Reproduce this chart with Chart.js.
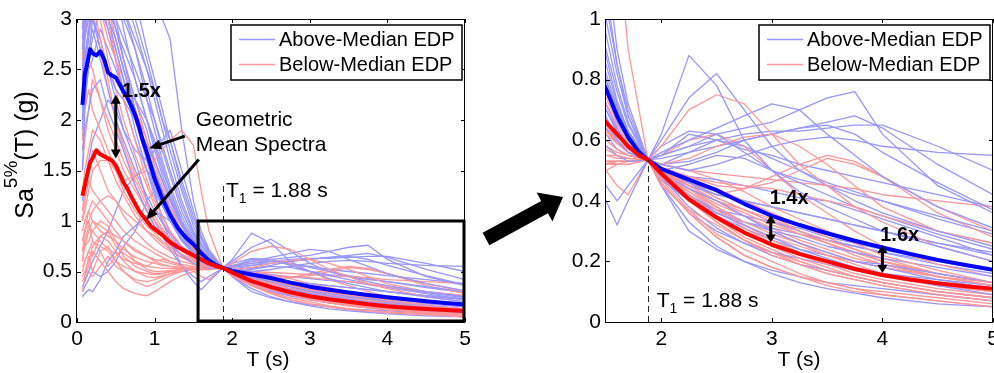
<!DOCTYPE html>
<html lang="en">
<head>
<meta charset="UTF-8">
<title>Spectra above / below median EDP</title>
<script src="https://cdn.jsdelivr.net/npm/chart.js@4.4.1/dist/chart.umd.min.js"></script>
<style>
  body { margin: 0; background: #fff; }
  #wrap { position: relative; width: 994px; height: 373px; overflow: hidden; }
  #left { position: absolute; left: 0; top: 0; }
  #right { position: absolute; left: 480px; top: 0; }
</style>
</head>
<body>
<div id="wrap">
  <canvas id="left" width="480" height="373"></canvas>
  <canvas id="right" width="514" height="373"></canvas>
</div>
<script>
// periods (s) of the individual spectra
var periods = [0.07,0.1,0.15,0.2,0.3,0.4,0.5,0.6,0.75,0.9,1.0,1.1,1.2,1.35,1.5,1.6,1.7,1.88,2.0,2.25,2.5,2.75,3.0,3.25,3.5,3.75,4.0,4.5,5.0];

// above-median EDP records, Sa (g)
var blueSpectra = [
  [3.4,3.9,4.3,4.1,3.9,3.6,3.4,3.1,2.7,2.2,1.9,1.6,1.35,1.05,0.82,0.71,0.63,0.535,0.49,0.44,0.4,0.35,0.3,0.26,0.23,0.2,0.18,0.14,0.11],
  [2.4,2.9,3.5,3.8,3.9,3.6,3.5,3.3,2.9,2.5,2.2,1.9,1.6,1.2,0.9,0.76,0.65,0.535,0.48,0.42,0.36,0.32,0.28,0.24,0.21,0.18,0.16,0.12,0.09],
  [1.7,1.9,2.1,2.3,2.4,2.1,1.9,1.7,1.35,1.1,0.95,0.85,0.78,0.66,0.58,0.55,0.53,0.535,0.62,0.88,0.78,0.6,0.5,0.43,0.38,0.34,0.3,0.25,0.2],
  [2.7,3.0,3.3,3.4,3.1,2.9,2.6,2.2,1.8,1.5,1.3,1.15,1.0,0.8,0.68,0.6,0.56,0.535,0.6,0.74,0.82,0.7,0.58,0.5,0.45,0.4,0.36,0.3,0.25],
  [3.1,3.5,3.9,3.8,3.5,3.0,2.8,2.5,2.1,1.7,1.5,1.3,1.1,0.86,0.7,0.63,0.58,0.535,0.55,0.58,0.62,0.64,0.66,0.7,0.74,0.76,0.62,0.45,0.36],
  [2.2,2.6,2.9,3.2,3.3,3.0,2.7,2.4,2.0,1.6,1.35,1.15,1.0,0.82,0.7,0.63,0.58,0.535,0.52,0.5,0.52,0.55,0.58,0.6,0.61,0.6,0.58,0.56,0.55],
  [1.5,2.1,2.6,3.0,3.3,3.4,3.0,2.6,2.1,1.6,1.3,1.0,0.8,0.55,0.4,0.32,0.4,0.535,0.58,0.63,0.62,0.56,0.5,0.46,0.42,0.38,0.35,0.29,0.24],
  [0.25,0.28,0.32,0.3,0.42,0.6,0.7,0.85,0.95,1.05,1.1,1.05,1.0,0.85,0.7,0.63,0.58,0.535,0.48,0.38,0.31,0.26,0.22,0.19,0.17,0.15,0.13,0.1,0.08],
  [2.9,3.3,3.5,3.4,3.2,3.0,2.7,2.4,1.9,1.5,1.25,1.05,0.9,0.74,0.64,0.59,0.56,0.535,0.56,0.6,0.64,0.68,0.72,0.7,0.62,0.55,0.48,0.38,0.31],
  [3.0,3.6,3.9,4.1,3.6,3.2,2.9,2.6,2.2,1.9,1.6,1.4,1.2,0.95,0.76,0.66,0.6,0.535,0.45,0.33,0.25,0.2,0.16,0.13,0.11,0.095,0.08,0.06,0.05],
  [2.6,2.9,3.1,3.0,2.7,2.5,2.3,2.2,2.0,1.75,1.6,1.4,1.22,0.98,0.78,0.68,0.6,0.535,0.5,0.48,0.47,0.45,0.43,0.41,0.4,0.37,0.34,0.28,0.22],
  [3.8,4.2,4.5,4.2,3.7,3.3,3.0,2.8,2.5,2.2,2.0,1.75,1.5,1.15,0.88,0.73,0.63,0.535,0.47,0.4,0.35,0.31,0.27,0.24,0.22,0.2,0.19,0.16,0.13],
  [2.0,2.4,2.7,2.9,2.6,2.3,2.0,1.8,1.5,1.25,1.1,0.98,0.86,0.72,0.62,0.57,0.55,0.535,0.54,0.56,0.58,0.6,0.62,0.64,0.66,0.68,0.64,0.52,0.42],
  [2.4,2.8,3.0,3.4,3.2,3.1,2.9,2.7,2.4,2.0,1.75,1.5,1.3,1.0,0.8,0.7,0.62,0.535,0.49,0.45,0.42,0.4,0.38,0.36,0.34,0.32,0.3,0.26,0.22],
  [3.3,3.6,3.7,3.6,3.2,2.9,2.6,2.3,2.0,1.7,1.5,1.3,1.1,0.87,0.72,0.64,0.58,0.535,0.52,0.53,0.56,0.6,0.62,0.64,0.65,0.62,0.56,0.46,0.37],
  [1.9,2.3,2.6,2.8,3.1,3.3,3.2,3.0,2.7,2.3,2.0,1.7,1.45,1.1,0.85,0.72,0.63,0.535,0.48,0.42,0.37,0.33,0.3,0.28,0.25,0.23,0.21,0.18,0.15],
  [2.3,2.6,2.9,3.0,2.8,2.5,2.2,1.9,1.6,1.2,1.0,0.85,0.72,0.55,0.45,0.4,0.45,0.535,0.45,0.3,0.24,0.2,0.17,0.15,0.13,0.12,0.11,0.09,0.07],
  [3.1,3.4,3.6,3.9,4.0,3.7,3.4,3.1,2.8,2.5,2.3,2.0,1.8,1.35,1.0,0.82,0.68,0.535,0.46,0.36,0.3,0.26,0.23,0.21,0.19,0.17,0.16,0.14,0.12],
  [2.7,3.0,3.3,3.4,3.7,3.9,4.0,3.9,3.7,3.4,3.2,3.0,2.8,1.9,1.2,0.9,0.72,0.535,0.5,0.46,0.42,0.4,0.38,0.36,0.34,0.32,0.3,0.26,0.23],
  [1.2,1.4,1.6,1.8,2.0,2.2,2.1,1.9,1.7,1.6,1.7,1.8,1.9,1.5,1.1,0.85,0.68,0.535,0.5,0.52,0.55,0.54,0.5,0.47,0.45,0.42,0.4,0.35,0.3],
  [0.35,0.4,0.5,0.6,0.75,0.9,1.1,1.3,1.45,1.5,1.4,1.3,1.15,0.95,0.78,0.68,0.6,0.535,0.55,0.62,0.6,0.57,0.55,0.52,0.5,0.48,0.46,0.42,0.38],
  [2.5,2.8,3.2,3.5,3.4,3.1,2.8,2.5,2.1,1.7,1.45,1.25,1.05,0.82,0.66,0.6,0.56,0.535,0.55,0.58,0.6,0.62,0.63,0.63,0.64,0.65,0.65,0.58,0.5],
  [3.6,4.0,4.4,4.6,4.2,3.8,3.3,2.9,2.4,2.0,1.7,1.45,1.25,0.98,0.78,0.68,0.61,0.535,0.5,0.46,0.41,0.37,0.33,0.3,0.27,0.25,0.23,0.19,0.16],
  [2.1,2.5,2.8,3.1,3.5,3.8,3.9,3.6,3.2,2.7,2.4,2.1,1.8,1.4,1.05,0.85,0.7,0.535,0.47,0.4,0.36,0.33,0.31,0.29,0.27,0.25,0.23,0.2,0.17],
  [1.8,2.2,2.5,2.6,2.9,2.7,2.5,2.3,2.2,2.0,1.8,1.55,1.3,1.0,0.8,0.7,0.62,0.535,0.52,0.56,0.6,0.58,0.54,0.5,0.46,0.43,0.4,0.34,0.29],
  [2.8,3.2,3.6,3.5,3.3,3.5,3.6,3.4,3.0,2.6,2.3,2.0,1.7,1.3,0.95,0.78,0.66,0.535,0.48,0.41,0.37,0.35,0.33,0.31,0.28,0.26,0.24,0.2,0.17],
  [0.3,0.35,0.42,0.5,0.45,0.5,0.6,0.75,0.9,1.2,1.3,1.25,1.1,0.9,0.72,0.64,0.58,0.535,0.5,0.46,0.43,0.39,0.35,0.32,0.29,0.26,0.24,0.2,0.17]
];

// below-median EDP records, Sa (g)
var redSpectra = [
  [0.5,0.6,0.7,0.8,0.75,0.7,0.6,0.5,0.42,0.4,0.42,0.45,0.48,0.52,0.55,0.55,0.54,0.535,0.5,0.42,0.35,0.3,0.25,0.21,0.18,0.15,0.13,0.1,0.08],
  [3.2,3.6,3.9,3.8,3.5,3.0,2.6,2.2,1.8,1.4,1.2,1.05,0.9,0.75,0.66,0.61,0.58,0.535,0.48,0.4,0.33,0.27,0.22,0.19,0.16,0.14,0.12,0.09,0.07],
  [1.0,1.1,1.3,1.5,1.6,1.6,1.5,1.4,1.45,1.55,1.6,1.7,1.8,1.9,1.75,1.3,0.9,0.535,0.45,0.37,0.32,0.27,0.23,0.2,0.17,0.15,0.13,0.1,0.08],
  [0.8,0.9,1.1,1.2,1.1,1.0,0.9,0.8,0.7,0.65,0.62,0.6,0.58,0.55,0.53,0.52,0.52,0.535,0.58,0.7,0.75,0.72,0.62,0.52,0.45,0.38,0.33,0.25,0.2],
  [0.4,0.45,0.55,0.7,0.6,0.5,0.4,0.33,0.28,0.26,0.3,0.35,0.4,0.46,0.5,0.52,0.53,0.535,0.5,0.44,0.38,0.32,0.27,0.23,0.2,0.17,0.15,0.12,0.1],
  [2.6,3.0,3.4,3.2,2.8,2.4,2.0,1.7,1.4,1.15,1.0,0.9,0.8,0.7,0.63,0.6,0.57,0.535,0.5,0.45,0.4,0.35,0.3,0.26,0.22,0.19,0.16,0.12,0.1],
  [0.9,1.0,1.1,1.0,0.95,0.9,0.85,0.8,0.72,0.65,0.6,0.57,0.55,0.53,0.52,0.52,0.52,0.535,0.51,0.48,0.46,0.45,0.44,0.42,0.4,0.38,0.35,0.3,0.26],
  [1.8,2.1,2.3,2.1,1.9,1.7,1.5,1.3,1.1,0.95,0.88,0.8,0.74,0.67,0.62,0.59,0.56,0.535,0.47,0.37,0.29,0.24,0.2,0.16,0.13,0.11,0.09,0.07,0.05],
  [3.6,3.9,4.0,3.8,3.4,3.1,2.8,2.5,2.1,1.7,1.45,1.25,1.05,0.85,0.72,0.65,0.59,0.535,0.49,0.42,0.36,0.32,0.28,0.25,0.22,0.2,0.18,0.15,0.13],
  [0.6,0.75,0.9,1.0,0.9,0.85,0.8,0.72,0.64,0.6,0.58,0.56,0.55,0.54,0.53,0.53,0.53,0.535,0.52,0.54,0.58,0.61,0.62,0.58,0.52,0.45,0.38,0.3,0.26],
  [1.3,1.5,1.7,1.9,1.8,1.6,1.4,1.25,1.05,0.9,0.82,0.75,0.7,0.64,0.6,0.57,0.55,0.535,0.49,0.43,0.38,0.33,0.29,0.26,0.23,0.2,0.18,0.15,0.12],
  [0.7,0.75,0.8,0.9,1.0,0.95,0.8,0.65,0.55,0.5,0.48,0.48,0.5,0.52,0.53,0.53,0.53,0.535,0.5,0.43,0.37,0.31,0.26,0.22,0.19,0.16,0.14,0.11,0.09],
  [2.9,3.3,3.5,3.4,3.1,2.8,2.6,2.4,2.1,1.8,1.6,1.4,1.2,0.95,0.76,0.67,0.6,0.535,0.46,0.36,0.28,0.22,0.18,0.15,0.13,0.11,0.1,0.08,0.06],
  [1.5,1.8,2.1,2.4,2.2,2.0,1.8,1.6,1.35,1.1,0.95,0.85,0.76,0.66,0.6,0.57,0.55,0.535,0.51,0.48,0.45,0.44,0.46,0.5,0.54,0.52,0.48,0.38,0.3],
  [0.45,0.5,0.6,0.75,0.85,0.8,0.7,0.6,0.5,0.48,0.47,0.48,0.5,0.52,0.53,0.53,0.53,0.535,0.52,0.5,0.47,0.43,0.38,0.34,0.3,0.26,0.22,0.17,0.13],
  [2.2,2.4,2.6,2.5,2.2,1.9,1.7,1.5,1.3,1.1,1.0,0.9,0.8,0.7,0.63,0.59,0.56,0.535,0.52,0.5,0.49,0.48,0.47,0.46,0.45,0.44,0.42,0.4,0.38],
  [3.3,3.7,3.9,3.8,3.5,3.2,2.9,2.6,2.2,1.8,1.55,1.35,1.15,0.9,0.74,0.66,0.6,0.535,0.46,0.36,0.28,0.22,0.18,0.15,0.12,0.1,0.09,0.07,0.05],
  [1.0,1.2,1.4,1.3,1.2,1.1,1.0,0.9,0.8,0.73,0.68,0.64,0.6,0.57,0.55,0.54,0.54,0.535,0.51,0.45,0.4,0.36,0.32,0.29,0.26,0.23,0.2,0.16,0.13],
  [0.8,0.9,1.0,1.1,1.2,1.25,1.2,1.1,1.0,0.9,0.85,0.78,0.72,0.64,0.58,0.56,0.55,0.535,0.48,0.4,0.33,0.27,0.23,0.19,0.16,0.14,0.12,0.09,0.07],
  [2.4,2.8,3.1,3.3,3.0,2.6,2.3,2.0,1.65,1.35,1.15,1.0,0.88,0.74,0.65,0.6,0.57,0.535,0.49,0.44,0.4,0.37,0.34,0.3,0.27,0.24,0.2,0.15,0.12],
  [0.3,0.45,0.65,0.5,0.7,0.55,0.65,0.75,0.6,0.55,0.6,0.62,0.6,0.56,0.5,0.45,0.42,0.535,0.55,0.6,0.62,0.58,0.5,0.42,0.36,0.3,0.25,0.19,0.15],
  [0.6,0.8,0.95,0.9,0.8,0.72,0.68,0.62,0.58,0.55,0.54,0.53,0.53,0.53,0.53,0.53,0.53,0.535,0.5,0.45,0.42,0.44,0.48,0.52,0.55,0.53,0.48,0.36,0.28],
  [0.55,0.6,0.7,0.65,0.85,0.9,0.75,0.68,0.6,0.52,0.5,0.5,0.51,0.52,0.53,0.53,0.53,0.535,0.5,0.46,0.41,0.37,0.33,0.29,0.26,0.23,0.2,0.16,0.13],
  [0.7,0.9,1.0,0.8,0.7,0.75,0.6,0.55,0.5,0.45,0.44,0.46,0.48,0.5,0.52,0.53,0.53,0.535,0.49,0.41,0.34,0.28,0.24,0.2,0.17,0.15,0.13,0.1,0.08],
  [2.0,2.5,2.9,3.1,2.7,2.3,2.0,1.75,1.45,1.2,1.05,0.93,0.83,0.72,0.64,0.6,0.57,0.535,0.5,0.46,0.43,0.4,0.36,0.32,0.28,0.24,0.21,0.16,0.13],
  [0.35,0.4,0.5,0.45,0.55,0.65,0.55,0.5,0.4,0.35,0.38,0.42,0.46,0.5,0.52,0.53,0.53,0.535,0.51,0.47,0.44,0.4,0.35,0.3,0.26,0.22,0.19,0.15,0.12],
  [1.1,1.3,1.5,1.7,1.5,1.3,1.2,1.05,0.9,0.78,0.72,0.68,0.64,0.6,0.57,0.55,0.54,0.535,0.5,0.44,0.39,0.35,0.31,0.27,0.24,0.21,0.19,0.15,0.12]
];

// geometric mean spectra
var meanPeriods = [0.07,0.1,0.13,0.17,0.2,0.25,0.3,0.35,0.4,0.45,0.5,0.55,0.6,0.65,0.7,0.75,0.8,0.85,0.9,0.95,1.0,1.1,1.2,1.3,1.4,1.5,1.6,1.7,1.8,1.88,2.0,2.25,2.5,2.75,3.0,3.25,3.5,3.75,4.0,4.25,4.5,4.75,5.0];
var blueMean = [2.15,2.45,2.55,2.7,2.66,2.64,2.68,2.6,2.47,2.44,2.42,2.35,2.28,2.22,2.14,2.05,1.93,1.79,1.68,1.55,1.42,1.22,1.06,0.93,0.84,0.77,0.68,0.61,0.56,0.535,0.505,0.47,0.435,0.39,0.35,0.32,0.293,0.268,0.246,0.225,0.205,0.188,0.172];
var redMean = [1.25,1.35,1.45,1.58,1.62,1.7,1.66,1.64,1.62,1.6,1.55,1.47,1.38,1.32,1.24,1.17,1.1,1.05,1.0,0.95,0.92,0.86,0.79,0.74,0.7,0.66,0.62,0.58,0.55,0.535,0.49,0.405,0.345,0.295,0.255,0.225,0.2,0.175,0.155,0.14,0.128,0.118,0.11];

// tick labels
var leftXTicks = [0, 1, 2, 3, 4, 5];
var leftYTicks = [0, 0.5, 1, 1.5, 2, 2.5, 3];
var rightXTicks = [2, 3, 4, 5];
var rightYTicks = [0, 0.2, 0.4, 0.6, 0.8, 1];

var T1 = 1.88;
var legendNames = ['Above-Median EDP', 'Below-Median EDP'];

var FONT = '"Liberation Sans", Arial, sans-serif';
var lightBlue = 'rgb(150,150,255)';
var lightRed = 'rgb(255,150,150)';

function series(xs, ys) {
    return xs.map(function (x, i) { return { x: x, y: ys[i] }; });
}

function lineSet(xs, ys, color, width) {
    return {
        data: series(xs, ys),
        borderColor: color,
        borderWidth: width,
        pointRadius: 0,
        tension: 0,
        fill: false,
        borderJoinStyle: 'round'
    };
}

function buildDatasets() {
    // first dataset is painted last, so the means go first
    var ds = [lineSet(meanPeriods, redMean, '#ff0000', 4), lineSet(meanPeriods, blueMean, '#0000ff', 4)];
    var n = Math.max(blueSpectra.length, redSpectra.length);
    for (var i = 0; i < n; i++) {
        if (redSpectra[i]) ds.push(lineSet(periods, redSpectra[i], lightRed, 1.3));
        if (blueSpectra[i]) ds.push(lineSet(periods, blueSpectra[i], lightBlue, 1.3));
    }
    return ds;
}

// ---------- drawing helpers ----------
function head(ctx, x1, y1, x2, y2, len, wid) {
    var a = Math.atan2(y2 - y1, x2 - x1), c = Math.cos(a), s = Math.sin(a);
    var bx = x2 - len * c, by = y2 - len * s;
    ctx.beginPath();
    ctx.moveTo(x2, y2);
    ctx.lineTo(bx - wid / 2 * s, by + wid / 2 * c);
    ctx.lineTo(bx + wid / 2 * s, by - wid / 2 * c);
    ctx.closePath();
    ctx.fill();
}

function arrow(ctx, p1, p2, lw, len, wid, twoWay) {
    var a = Math.atan2(p2[1] - p1[1], p2[0] - p1[0]), c = Math.cos(a), s = Math.sin(a);
    var sx = twoWay ? p1[0] + len * 0.8 * c : p1[0];
    var sy = twoWay ? p1[1] + len * 0.8 * s : p1[1];
    ctx.lineWidth = lw;
    ctx.beginPath();
    ctx.moveTo(sx, sy);
    ctx.lineTo(p2[0] - len * 0.8 * c, p2[1] - len * 0.8 * s);
    ctx.stroke();
    head(ctx, p1[0], p1[1], p2[0], p2[1], len, wid);
    if (twoWay) head(ctx, p2[0], p2[1], p1[0], p1[1], len, wid);
}

function bigArrow(ctx, x1, y1, x2, y2, shaft, len, wid) {
    var a = Math.atan2(y2 - y1, x2 - x1), c = Math.cos(a), s = Math.sin(a);
    var nx = -s, ny = c;
    var bx = x2 - len * c, by = y2 - len * s;
    var h = shaft / 2, w = wid / 2;
    ctx.beginPath();
    ctx.moveTo(x1 + h * nx, y1 + h * ny);
    ctx.lineTo(bx + h * nx, by + h * ny);
    ctx.lineTo(bx + w * nx, by + w * ny);
    ctx.lineTo(x2, y2);
    ctx.lineTo(bx - w * nx, by - w * ny);
    ctx.lineTo(bx - h * nx, by - h * ny);
    ctx.lineTo(x1 - h * nx, y1 - h * ny);
    ctx.closePath();
    ctx.fill();
}

function t1Label(ctx, x, y) {
    ctx.textAlign = 'left';
    ctx.textBaseline = 'alphabetic';
    ctx.font = '21px ' + FONT;
    ctx.fillText('T', x, y);
    var w = ctx.measureText('T').width;
    ctx.font = '14px ' + FONT;
    ctx.fillText('1', x + w, y + 6);
    var w2 = ctx.measureText('1').width;
    ctx.font = '21px ' + FONT;
    ctx.fillText(' = 1.88 s', x + w + w2, y);
}

function legend(ctx, ca) {
    var left = ca.right - 234, top = ca.top + 6;
    ctx.fillStyle = '#fff';
    ctx.fillRect(left, top, 231, 55);
    ctx.strokeStyle = '#000';
    ctx.lineWidth = 1.5;
    ctx.strokeRect(left, top, 231, 55);
    var colors = [lightBlue, lightRed];
    ctx.font = '20px ' + FONT;
    ctx.textAlign = 'left';
    ctx.textBaseline = 'middle';
    for (var i = 0; i < 2; i++) {
        var y = top + 14 + i * 25;
        ctx.strokeStyle = colors[i];
        ctx.lineWidth = 1.3;
        ctx.beginPath();
        ctx.moveTo(left + 8, y + 0.5);
        ctx.lineTo(left + 44, y + 0.5);
        ctx.stroke();
        ctx.fillStyle = '#000';
        ctx.fillText(legendNames[i], left + 48, y + 1.5);
    }
}

function frame(ctx, ca, xs, ys, xt, yt) {
    ctx.strokeStyle = '#000';
    ctx.lineWidth = 1;
    ctx.strokeRect(Math.round(ca.left) - 0.5, Math.round(ca.top) + 0.5, Math.round(ca.right - ca.left), Math.round(ca.bottom - ca.top));
    ctx.beginPath();
    xt.forEach(function (v) {
        var x = Math.round(xs.getPixelForValue(v)) + 0.5;
        ctx.moveTo(x, ca.bottom); ctx.lineTo(x, ca.bottom - 4);
        ctx.moveTo(x, ca.top); ctx.lineTo(x, ca.top + 4);
    });
    yt.forEach(function (v) {
        var y = Math.round(ys.getPixelForValue(v)) + 0.5;
        ctx.moveTo(ca.left, y); ctx.lineTo(ca.left + 4, y);
        ctx.moveTo(ca.right, y); ctx.lineTo(ca.right - 4, y);
    });
    ctx.stroke();
}

function dashed(ctx, p1, p2) {
    ctx.save();
    ctx.strokeStyle = '#222';
    ctx.lineWidth = 1;
    ctx.setLineDash([6, 4]);
    ctx.beginPath();
    ctx.moveTo(Math.round(p1[0]) + 0.5, p1[1]);
    ctx.lineTo(Math.round(p2[0]) + 0.5, p2[1]);
    ctx.stroke();
    ctx.restore();
}

// ---------- panel annotations ----------
var leftDecor = {
    id: 'leftDecor',
    afterDatasetsDraw: function (chart) {
        var ctx = chart.ctx, ca = chart.chartArea, xs = chart.scales.x, ys = chart.scales.y;
        function p(x, y) { return [xs.getPixelForValue(x), ys.getPixelForValue(y)]; }
        ctx.save();
        dashed(ctx, p(T1, 0), p(T1, 1.38));
        ctx.strokeStyle = '#000';
        ctx.lineWidth = 3;
        var a = p(1.56, 1.0), b = p(5, 0);
        ctx.strokeRect(a[0], a[1], b[0] - a[0] - 1, b[1] - a[1] - 1);
        frame(ctx, ca, xs, ys, leftXTicks, leftYTicks);

        ctx.fillStyle = '#000';
        ctx.strokeStyle = '#000';
        arrow(ctx, p(0.5, 2.25), p(0.5, 1.62), 3, 9, 10, true);
        arrow(ctx, p(1.39, 1.84), p(0.93, 1.72), 3, 12, 10, false);
        arrow(ctx, p(1.57, 1.61), p(0.89, 1.01), 3, 12, 10, false);

        ctx.font = 'bold 20px ' + FONT;
        ctx.textAlign = 'left';
        ctx.textBaseline = 'middle';
        var q = p(0.58, 2.28);
        ctx.fillText('1.5x', q[0], q[1]);
        ctx.font = '21px ' + FONT;
        q = p(1.53, 2.0);
        ctx.fillText('Geometric', q[0], q[1]);
        q = p(1.53, 1.75);
        ctx.fillText('Mean Spectra', q[0], q[1]);
        q = p(1.92, 1.24);
        t1Label(ctx, q[0], q[1]);

        legend(ctx, ca);

        // axis titles
        ctx.fillStyle = '#000';
        ctx.font = '21px ' + FONT;
        ctx.textAlign = 'center';
        ctx.textBaseline = 'alphabetic';
        ctx.fillText('T (s)', (ca.left + ca.right) / 2 - 3, 366);

        ctx.translate(33, 155);
        ctx.rotate(-Math.PI / 2);
        ctx.textAlign = 'left';
        var main = '25px ' + FONT, sup = '19px ' + FONT;
        ctx.font = main; var w1 = ctx.measureText('Sa').width, w3 = ctx.measureText('(T) (g)').width;
        ctx.font = sup; var w2 = ctx.measureText('5%').width;
        var x0 = -(w1 + w2 + w3) / 2;
        ctx.font = main; ctx.fillText('Sa', x0, 0);
        ctx.font = sup; ctx.fillText('5%', x0 + w1, -16);
        ctx.font = main; ctx.fillText('(T) (g)', x0 + w1 + w2, 0);
        ctx.restore();
    }
};

var rightDecor = {
    id: 'rightDecor',
    afterDatasetsDraw: function (chart) {
        var ctx = chart.ctx, ca = chart.chartArea, xs = chart.scales.x, ys = chart.scales.y;
        function p(x, y) { return [xs.getPixelForValue(x), ys.getPixelForValue(y)]; }
        ctx.save();
        dashed(ctx, p(T1, 0), p(T1, 0.535));
        frame(ctx, ca, xs, ys, rightXTicks, rightYTicks);

        ctx.fillStyle = '#000';
        ctx.strokeStyle = '#000';
        arrow(ctx, p(2.99, 0.352), p(2.99, 0.262), 3, 8, 10, true);
        arrow(ctx, p(4.0, 0.254), p(4.0, 0.162), 3, 8, 10, true);

        ctx.font = 'bold 20px ' + FONT;
        ctx.textAlign = 'left';
        ctx.textBaseline = 'middle';
        var q = p(2.98, 0.406);
        ctx.fillText('1.4x', q[0], q[1]);
        q = p(3.98, 0.287);
        ctx.fillText('1.6x', q[0], q[1]);
        q = p(1.958, 0.05);
        t1Label(ctx, q[0], q[1]);

        legend(ctx, ca);

        ctx.fillStyle = '#000';
        ctx.font = '21px ' + FONT;
        ctx.textAlign = 'center';
        ctx.textBaseline = 'alphabetic';
        ctx.fillText('T (s)', 319, 366);

        // pointer from the zoom box to this panel
        bigArrow(ctx, 6, 239, 83, 197, 14, 21, 33);
        ctx.restore();
    }
};

function makePanel(id, cfg) {
    return new Chart(document.getElementById(id), {
        type: 'line',
        data: { datasets: buildDatasets() },
        options: {
            responsive: false,
            animation: false,
            events: [],
            layout: { padding: { left: 0, top: 19, right: cfg.padRight, bottom: 0 } },
            plugins: { legend: { display: false }, tooltip: { enabled: false } },
            scales: {
                x: {
                    type: 'linear', min: cfg.xmin, max: cfg.xmax,
                    grid: { display: false, drawTicks: false },
                    border: { display: false },
                    ticks: {
                        padding: 5, color: '#000', maxRotation: 0, autoSkip: false,
                        font: { family: FONT, size: 21 },
                        callback: function (v) { return String(v); }
                    },
                    afterBuildTicks: function (s) { s.ticks = cfg.xticks.map(function (v) { return { value: v }; }); },
                    afterFit: function (s) { s.height = 51; s.paddingLeft = 0; s.paddingRight = 0; }
                },
                y: {
                    type: 'linear', min: 0, max: cfg.ymax,
                    grid: { display: false, drawTicks: false },
                    border: { display: false },
                    ticks: {
                        padding: 5, color: '#000', autoSkip: false,
                        font: { family: FONT, size: 21 },
                        callback: function (v) { return String(v); }
                    },
                    afterBuildTicks: function (s) { s.ticks = cfg.yticks.map(function (v) { return { value: v }; }); },
                    afterFit: function (s) { s.width = cfg.yWidth; s.paddingTop = 0; s.paddingBottom = 0; }
                }
            }
        },
        plugins: [cfg.decor]
    });
}

makePanel('left', { xmin: 0, xmax: 5, ymax: 3, xticks: leftXTicks, yticks: leftYTicks, yWidth: 77, padRight: 15, decor: leftDecor });
makePanel('right', { xmin: 1.5, xmax: 5, ymax: 1, xticks: rightXTicks, yticks: rightYTicks, yWidth: 126, padRight: 1, decor: rightDecor });
</script>
</body>
</html>
